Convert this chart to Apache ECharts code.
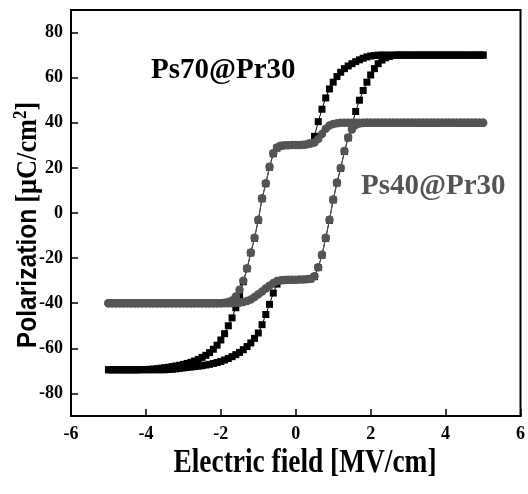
<!DOCTYPE html>
<html>
<head>
<meta charset="utf-8">
<script src="https://cdn.jsdelivr.net/npm/echarts@6/dist/echarts.min.js"></script>
<style>
  html, body { margin: 0; padding: 0; background: #fff; }
  #chart { width: 528px; height: 494px; }
</style>
</head>
<body>
<div id="chart"></div>
<script>
// electric field grid, MV/cm
const field = [
  -5.0, -4.9, -4.8, -4.7, -4.6, -4.5, -4.4, -4.3, -4.2, -4.1,
  -4.0, -3.9, -3.8, -3.7, -3.6, -3.5, -3.4, -3.3, -3.2, -3.1,
  -3.0, -2.9, -2.8, -2.7, -2.6, -2.5, -2.4, -2.3, -2.2, -2.1,
  -2.0, -1.9, -1.8, -1.7, -1.6, -1.5, -1.4, -1.3, -1.2, -1.1,
  -1.0, -0.9, -0.8, -0.7, -0.6, -0.5, -0.4, -0.3, -0.2, -0.1,
  0.0, 0.1, 0.2, 0.3, 0.4, 0.5, 0.6, 0.7, 0.8, 0.9,
  1.0, 1.1, 1.2, 1.3, 1.4, 1.5, 1.6, 1.7, 1.8, 1.9,
  2.0, 2.1, 2.2, 2.3, 2.4, 2.5, 2.6, 2.7, 2.8, 2.9,
  3.0, 3.1, 3.2, 3.3, 3.4, 3.5, 3.6, 3.7, 3.8, 3.9,
  4.0, 4.1, 4.2, 4.3, 4.4, 4.5, 4.6, 4.7, 4.8, 4.9,
  5.0
];

// Ps70@Pr30, rising branch (field going up)
const ps70Rise = [
  -69.5, -69.5, -69.5, -69.5, -69.5, -69.5, -69.5, -69.5, -69.5, -69.5,
  -69.5, -69.5, -69.5, -69.5, -69.5, -69.5, -69.4, -69.3, -69.1, -68.9,
  -68.7, -68.5, -68.3, -68.1, -67.9, -67.7, -67.4, -67.1, -66.7, -66.3,
  -65.8, -65.2, -64.5, -63.7, -62.8, -61.8, -60.6, -59.2, -57.6, -55.6,
  -53.2, -49.5, -45, -40.5, -35.5, -31.5, -30, -29.7, -29.6, -29.6,
  -29.6, -29.5, -29.5, -29.4, -29.2, -28.2, -24.2, -18.7, -11.2, -3.2,
  5.8, 13.3, 19.8, 27.3, 33.3, 39, 45, 50, 54.3, 58,
  61.2, 64, 66.2, 67.8, 68.8, 69.4, 69.8, 70, 70, 70,
  70, 70, 70, 70, 70, 70, 70, 70, 70, 70,
  70, 70, 70, 70, 70, 70, 70, 70, 70, 70,
  70
];

// Ps70@Pr30, falling branch (field going down)
const ps70Fall = [
  -69.5, -69.5, -69.5, -69.5, -69.5, -69.5, -69.5, -69.5, -69.5, -69.4,
  -69.4, -69.3, -69.2, -69, -68.8, -68.6, -68.4, -68.1, -67.8, -67.5,
  -67.1, -66.7, -66.2, -65.6, -64.9, -64, -63.1, -61.9, -60.4, -58.6,
  -56.3, -53.5, -50, -46.5, -42, -36.5, -30.5, -24.7, -17.7, -11.2,
  -3.2, 6.3, 13, 20.3, 26.3, 28.8, 29.7, 29.9, 30, 30,
  30, 30.1, 30.2, 30.4, 31, 34, 40.5, 46, 51, 55,
  58, 60.5, 62.4, 64, 65.2, 66.2, 67.1, 67.9, 68.6, 69.2,
  69.6, 69.8, 70, 70, 70, 70, 70, 70, 70, 70,
  70, 70, 70, 70, 70, 70, 70, 70, 70, 70,
  70, 70, 70, 70, 70, 70, 70, 70, 70, 70,
  70
];

// Ps40@Pr30, rising branch
const ps40Rise = [
  -40, -40, -40, -40, -40, -40, -40, -40, -40, -40,
  -40, -40, -40, -40, -40, -40, -40, -40, -40, -40,
  -40, -40, -40, -40, -40, -40, -40, -40, -40, -40,
  -40, -40, -40, -40, -39.9, -39.8, -39.5, -39, -38.3, -37.2,
  -36, -34.8, -33.5, -32.2, -31, -30.2, -29.8, -29.7, -29.6, -29.6,
  -29.6, -29.5, -29.5, -29.4, -29.2, -28, -24, -18.5, -11, -3,
  6, 13.5, 20, 27.5, 33.5, 37, 39, 39.7, 39.9, 40,
  40, 40, 40, 40, 40, 40, 40, 40, 40, 40,
  40, 40, 40, 40, 40, 40, 40, 40, 40, 40,
  40, 40, 40, 40, 40, 40, 40, 40, 40, 40,
  40
];

// Ps40@Pr30, falling branch
const ps40Fall = [
  -40, -40, -40, -40, -40, -40, -40, -40, -40, -40,
  -40, -40, -40, -40, -40, -40, -40, -40, -40, -40,
  -40, -40, -40, -40, -40, -40, -40, -40, -40, -40,
  -40, -39.8, -39.5, -38.8, -37, -34, -30, -24.5, -17.5, -11,
  -3, 6.5, 13.2, 20.5, 26.5, 29, 29.8, 30, 30, 30.1,
  30.1, 30.2, 30.3, 30.5, 30.8, 31.3, 32.8, 35, 37.3, 38.8,
  39.5, 39.8, 40, 40, 40, 40, 40, 40, 40, 40,
  40, 40, 40, 40, 40, 40, 40, 40, 40, 40,
  40, 40, 40, 40, 40, 40, 40, 40, 40, 40,
  40, 40, 40, 40, 40, 40, 40, 40, 40, 40,
  40
];

const yTicks = [-80, -60, -40, -20, 0, 20, 40, 60, 80];

const SERIF = '"Liberation Serif", "Times New Roman", serif';
const SANS = '"Liberation Sans", Arial, sans-serif';
const GRAY = '#545454';

function pairs(values) {
  return field.map((e, i) => [e, values[i]]);
}

function loopSeries(values, color, symbol, size) {
  return {
    type: 'line',
    data: pairs(values),
    symbol,
    symbolSize: size,
    itemStyle: { color },
    lineStyle: { color, width: 1 },
    silent: true,
  };
}

const chart = echarts.init(document.getElementById('chart'));

chart.setOption({
  animation: false,
  backgroundColor: '#fff',
  grid: {
    left: 71, right: 4, top: 10, bottom: 78,
    show: true, borderColor: '#000', borderWidth: 2,
  },
  xAxis: {
    type: 'value',
    min: -6, max: 6, interval: 2,
    axisLine: { onZero: false, lineStyle: { color: '#000', width: 2 } },
    axisTick: { inside: true, length: 7, lineStyle: { color: '#000', width: 1.5 } },
    axisLabel: { color: '#000', fontFamily: SERIF, fontWeight: 'bold', fontSize: 18, margin: 9 },
    splitLine: { show: false },
  },
  yAxis: {
    type: 'value',
    min: -90, max: 90,
    axisLine: { onZero: false, lineStyle: { color: '#000', width: 2 } },
    axisTick: {
      inside: true, length: 7, customValues: yTicks,
      lineStyle: { color: '#000', width: 1.5 },
    },
    axisLabel: {
      customValues: yTicks,
      color: '#000', fontFamily: SERIF, fontWeight: 'bold', fontSize: 18, margin: 8,
    },
    splitLine: { show: false },
  },
  graphic: [
    {
      type: 'text', left: 151, top: 56,
      style: { text: 'Ps70@Pr30', fill: '#000', font: 'bold 29px ' + SERIF },
    },
    {
      type: 'text', left: 361, top: 172,
      style: { text: 'Ps40@Pr30', fill: GRAY, font: 'bold 29px ' + SERIF },
    },
    {
      // axis titles: the original fonts are condensed, hence the scaleX
      type: 'text', x: 305, y: 463, scaleX: 0.83,
      style: {
        text: 'Electric field [MV/cm]', fill: '#000',
        font: 'bold 33px ' + SERIF, align: 'center', verticalAlign: 'middle',
      },
    },
    {
      type: 'text', x: 28, y: 225, rotation: Math.PI / 2, scaleX: 0.88,
      style: {
        text: '{p|Polarization}  {u|[μC/cm}{s|2}{u|]}',
        align: 'center', verticalAlign: 'middle',
        rich: {
          p: { fontFamily: SANS, fontWeight: 'bold', fontSize: 28, fill: '#000' },
          u: { fontFamily: SERIF, fontWeight: 'bold', fontSize: 30, fill: '#000' },
          s: { fontFamily: SERIF, fontWeight: 'bold', fontSize: 19, fill: '#000', padding: [0, 0, 14, 0] },
        },
      },
    },
  ],
  series: [
    loopSeries(ps70Rise, '#000', 'rect', 7),
    loopSeries(ps70Fall, '#000', 'rect', 7),
    loopSeries(ps40Rise, GRAY, 'circle', 8.5),
    loopSeries(ps40Fall, GRAY, 'circle', 8.5),
  ],
});
</script>
</body>
</html>
